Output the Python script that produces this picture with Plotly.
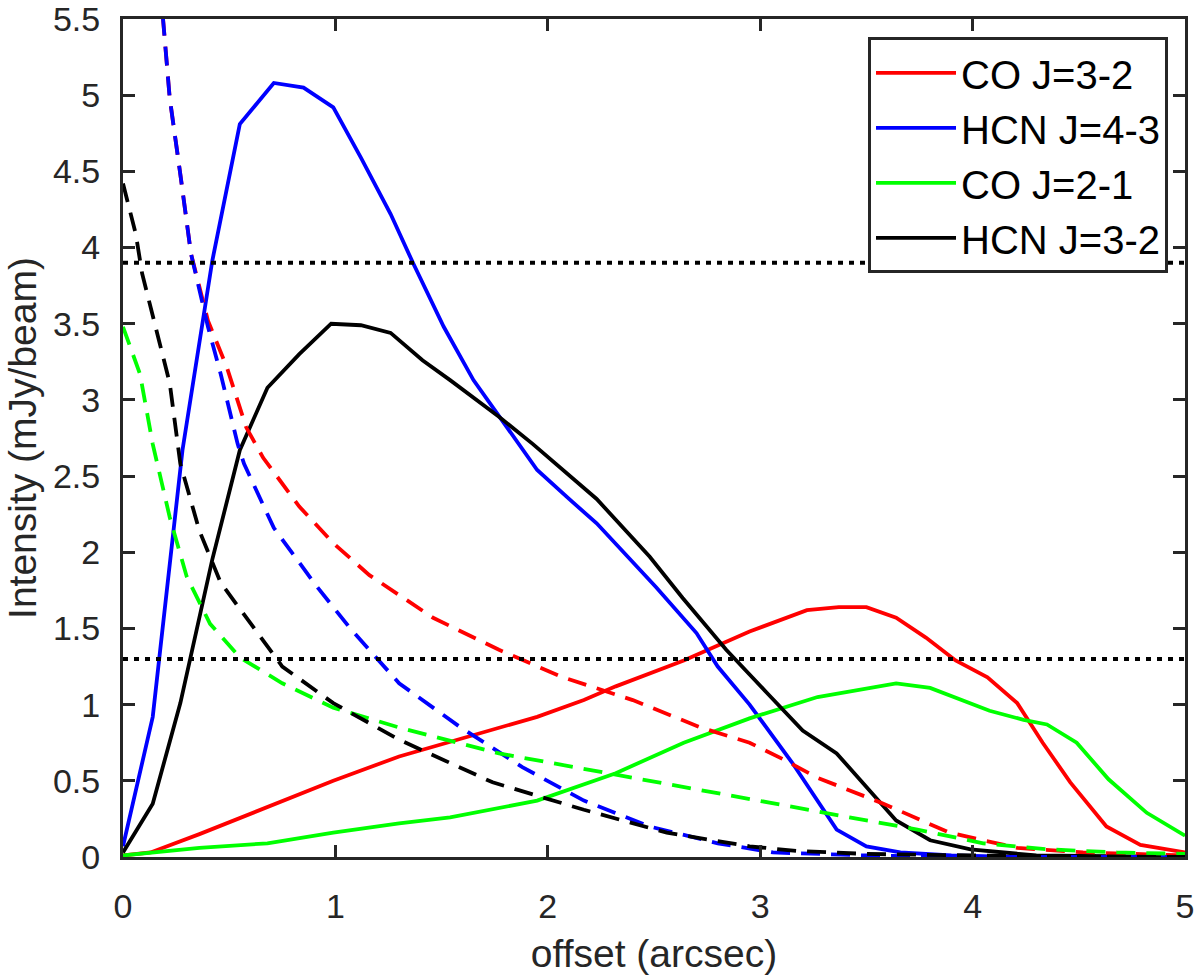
import plotly.graph_objects as go

# solid curves (observed profiles)
co32_x = [0, 0.13, 0.36, 0.68, 0.99, 1.30, 1.67, 1.95, 2.17, 2.32, 2.64, 2.95, 3.22, 3.37, 3.50, 3.64, 3.78, 3.92, 4.07, 4.21, 4.33, 4.46, 4.63, 4.79, 5.0]
co32_y = [0.01, 0.03, 0.15, 0.33, 0.50, 0.66, 0.81, 0.92, 1.03, 1.12, 1.29, 1.48, 1.62, 1.64, 1.64, 1.57, 1.44, 1.29, 1.18, 1.01, 0.75, 0.49, 0.20, 0.08, 0.03]

hcn43_x = [0, 0.14, 0.28, 0.42, 0.55, 0.71, 0.85, 0.99, 1.12, 1.26, 1.365, 1.51, 1.65, 1.77, 1.95, 2.10, 2.23, 2.51, 2.70, 2.80, 2.95, 3.15, 3.36, 3.5, 3.66, 3.9, 4.2, 5.0]
hcn43_y = [0.07, 0.92, 2.67, 3.91, 4.81, 5.08, 5.05, 4.92, 4.59, 4.22, 3.90, 3.48, 3.13, 2.89, 2.54, 2.35, 2.19, 1.77, 1.47, 1.25, 1.0, 0.62, 0.18, 0.07, 0.03, 0.01, 0.0, 0.0]

co21_x = [0, 0.36, 0.68, 0.99, 1.30, 1.54, 1.95, 2.09, 2.32, 2.64, 2.95, 3.27, 3.64, 3.80, 4.08, 4.24, 4.35, 4.49, 4.64, 4.82, 5.0]
co21_y = [0.01, 0.06, 0.09, 0.16, 0.22, 0.26, 0.37, 0.44, 0.55, 0.75, 0.91, 1.05, 1.14, 1.11, 0.96, 0.90, 0.87, 0.75, 0.51, 0.29, 0.14]

hcn32_x = [0, 0.14, 0.27, 0.42, 0.55, 0.68, 0.83, 0.98, 1.12, 1.26, 1.41, 1.54, 1.77, 1.93, 2.23, 2.48, 2.635, 2.84, 3.03, 3.2, 3.36, 3.64, 3.8, 3.99, 4.3, 5.0]
hcn32_y = [0.03, 0.35, 1.01, 1.95, 2.67, 3.08, 3.30, 3.50, 3.49, 3.44, 3.26, 3.13, 2.89, 2.71, 2.35, 1.97, 1.70, 1.36, 1.08, 0.83, 0.68, 0.24, 0.11, 0.05, 0.01, 0.0]

# dashed curves
co32d_x = [0.14, 0.19, 0.22, 0.27, 0.32, 0.40, 0.49, 0.58, 0.66, 0.83, 0.99, 1.16, 1.46, 1.77, 2.07, 2.40, 2.72, 2.95, 3.11, 3.27, 3.58, 3.89, 4.21, 4.52, 5.0]
co32d_y = [6.3, 5.49, 4.98, 4.48, 3.96, 3.52, 3.21, 2.82, 2.62, 2.30, 2.06, 1.85, 1.57, 1.36, 1.18, 1.03, 0.85, 0.75, 0.64, 0.52, 0.35, 0.16, 0.06, 0.03, 0.01]

hcn43d_x = [0.14, 0.19, 0.22, 0.27, 0.32, 0.40, 0.46, 0.54, 0.57, 0.71, 0.91, 1.07, 1.30, 1.59, 1.88, 2.17, 2.48, 2.80, 3.06, 3.5, 4.0, 5.0]
hcn43d_y = [6.3, 5.49, 4.98, 4.48, 3.96, 3.48, 3.17, 2.71, 2.58, 2.16, 1.78, 1.50, 1.14, 0.85, 0.59, 0.37, 0.20, 0.09, 0.03, 0.01, 0.0, 0.0]

co21d_x = [0, 0.08, 0.14, 0.22, 0.30, 0.41, 0.55, 0.75, 0.99, 1.30, 1.77, 2.17, 2.56, 3.05, 3.42, 3.74, 4.05, 4.36, 4.68, 5.0]
co21d_y = [3.48, 3.17, 2.71, 2.23, 1.84, 1.53, 1.31, 1.14, 0.98, 0.85, 0.68, 0.58, 0.48, 0.355, 0.26, 0.18, 0.09, 0.05, 0.03, 0.02]

hcn32d_x = [0, 0.06, 0.09, 0.16, 0.22, 0.27, 0.36, 0.46, 0.60, 0.75, 0.99, 1.30, 1.74, 2.17, 2.56, 2.95, 3.17, 3.5, 4.0, 5.0]
hcn32d_y = [4.42, 4.09, 3.83, 3.44, 3.11, 2.58, 2.14, 1.80, 1.53, 1.25, 1.01, 0.77, 0.49, 0.31, 0.16, 0.07, 0.04, 0.02, 0.01, 0.0]

# sensitivity levels
levels = [3.9, 1.3]

names = ["CO J=3-2", "HCN J=4-3", "CO J=2-1", "HCN J=3-2"]
colors = ["#ff0000", "#0000ff", "#00ff00", "#000000"]
solid = [(co32_x, co32_y), (hcn43_x, hcn43_y), (co21_x, co21_y), (hcn32_x, hcn32_y)]
dashed = [(co32d_x, co32d_y), (hcn43d_x, hcn43d_y), (co21d_x, co21d_y), (hcn32d_x, hcn32d_y)]

fig = go.Figure()
for (x, y), name, c in zip(solid, names, colors):
    fig.add_trace(go.Scatter(x=x, y=y, mode="lines", name=name,
                             line=dict(color=c, width=3.8)))
for (x, y), c in zip(dashed, colors):
    fig.add_trace(go.Scatter(x=x, y=y, mode="lines", showlegend=False,
                             line=dict(color=c, width=3.8, dash="19px,11px")))
for lv in levels:
    fig.add_trace(go.Scatter(x=[0, 5], y=[lv, lv], mode="lines", showlegend=False,
                             line=dict(color="black", width=4, dash="5px,6px")))

axis_style = dict(showline=True, linecolor="#262626", linewidth=3, mirror="ticks",
                  ticks="inside", ticklen=12, tickwidth=3, tickcolor="#262626",
                  showgrid=False, zeroline=False, automargin=False,
                  ticklabeloverflow="allow",
                  tickfont=dict(size=34, color="#262626"),
                  title_font=dict(size=39, color="#262626"))

fig.update_xaxes(range=[0, 5], dtick=1, title_text="offset (arcsec)", title_standoff=27,
                 ticklabelstandoff=17, **axis_style)
fig.update_yaxes(range=[0, 5.5], dtick=0.5, title_text="Intensity (mJy/beam)", title_standoff=5,
                 ticklabelstandoff=13, **axis_style)

fig.update_layout(
    width=1200, height=975,
    margin=dict(l=123, r=15, t=19, b=118),
    plot_bgcolor="white", paper_bgcolor="white",
    font=dict(family="Liberation Sans, Arial, sans-serif"),
    legend=dict(x=0.984, y=0.978, xanchor="right", yanchor="top",
                bgcolor="white", bordercolor="#262626", borderwidth=3,
                font=dict(size=40, color="black"), itemwidth=80),
)
# drop the page's default body margin so the figure fills the window
fig.write_html("out.html", config={"displayModeBar": False},
               post_script="document.body.style.margin = '0';")
